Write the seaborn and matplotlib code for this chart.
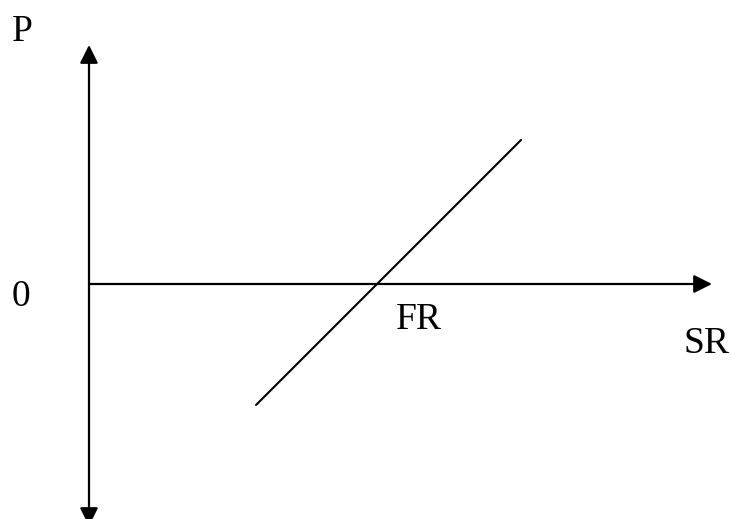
import numpy as np
import pandas as pd
import matplotlib
matplotlib.use("Agg")
import matplotlib.pyplot as plt
import seaborn as sns

# diagram data (units: 0 at the axes crossing, 1 unit ~ 100 px)
line_x = [1.67, 4.32]
line_y = [-1.21, 1.44]
x_axis_end = 6.23
y_axis_top = 2.39
y_axis_bottom = -2.42
labels = ["P", "0", "FR", "SR"]
label_x = [-0.77, -0.77, 3.07, 5.94]
label_y = [2.43, -0.22, -0.45, -0.69]

sns.set_style("white")
plt.rcParams['font.family'] = ['Liberation Serif', 'DejaVu Serif']

fig = plt.figure(figsize=(7.31, 5.19), dpi=100)
ax = fig.add_axes([0, 0, 1, 1])

df = pd.DataFrame({"SR": line_x, "P": line_y})
sns.lineplot(data=df, x="SR", y="P", ax=ax, color="black", linewidth=1.5)

arrow = dict(arrowstyle="-|>,head_length=1.1,head_width=0.55", color="black",
             lw=1.6, mutation_scale=10, shrinkA=0, shrinkB=0)
arrow2 = dict(arrow, arrowstyle="<|-|>,head_length=1.1,head_width=0.55")
ax.annotate("", xy=(x_axis_end, 0), xytext=(0, 0), arrowprops=arrow)
ax.annotate("", xy=(0, y_axis_top), xytext=(0, y_axis_bottom), arrowprops=arrow2)

for lab, lx, ly in zip(labels, label_x, label_y):
    ax.text(lx, ly, lab, fontsize=27, ha="left", va="baseline", color="black")

ax.set_xlim(-0.89, 6.42)
ax.set_ylim(-2.35, 2.84)
ax.set_axis_off()

fig.savefig("out.png", dpi=100)
plt.close(fig)
